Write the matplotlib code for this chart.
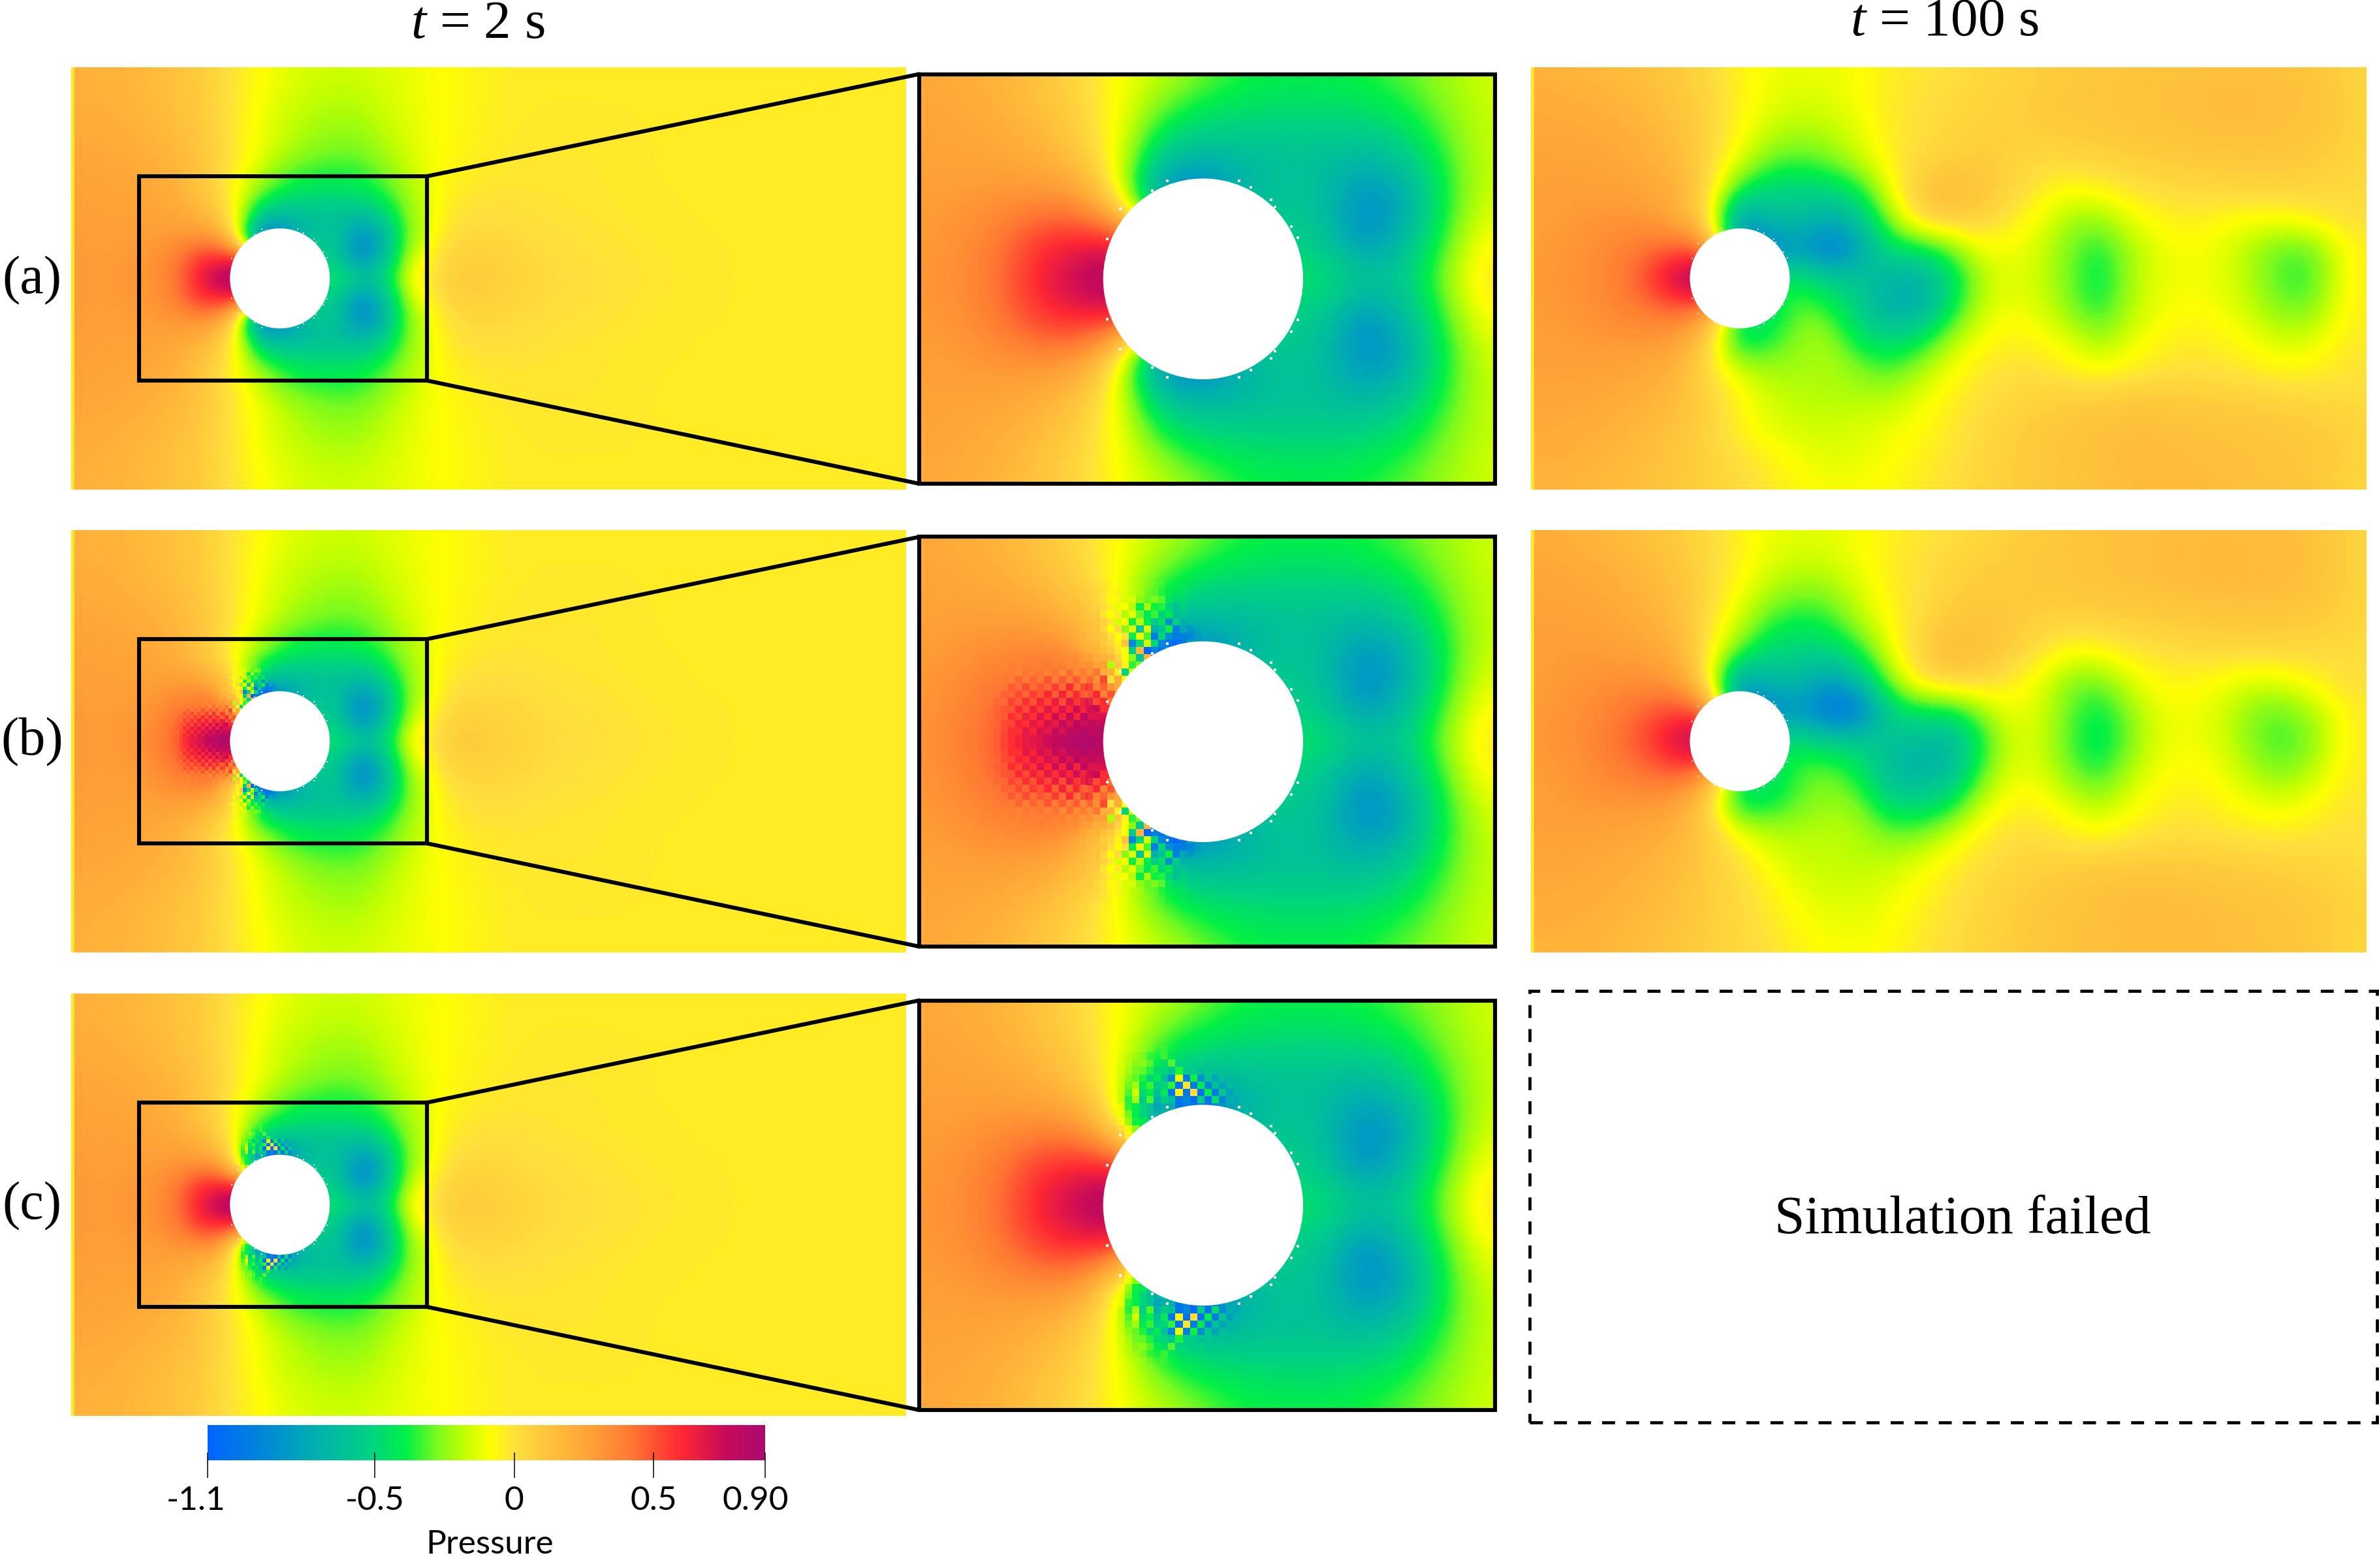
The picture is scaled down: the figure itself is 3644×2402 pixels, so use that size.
import numpy as np
import matplotlib
matplotlib.use('Agg')
import matplotlib.pyplot as plt
import matplotlib.patches as patches
from matplotlib.colors import LinearSegmentedColormap, Normalize
from matplotlib.cm import ScalarMappable

W, H = 3644, 2402
N = np.nan

plt.rcParams['font.family'] = ['Liberation Serif', 'DejaVu Serif']
plt.rcParams['mathtext.fontset'] = 'custom'
plt.rcParams['mathtext.it'] = 'Liberation Serif:italic'
plt.rcParams['mathtext.rm'] = 'Liberation Serif'

# --- colour scale ---
P_MIN, P_MAX = -1.1, 0.9
CMAP_VALUES = [-1.1, -0.85, -0.72, -0.52, -0.39, -0.28, -0.17, -0.086, 0.0, 0.10, 0.28, 0.42, 0.60, 0.76, 0.90]
CMAP_COLORS = ['#0064ff', '#0091cd', '#00afaf', '#00d282', '#00f046', '#78fa1e', '#c8ff00', '#ffff00',
               '#ffe13c', '#ffc83c', '#ffa037', '#ff7832', '#ff2832', '#c80a5a', '#aa0a6e']
TICK_VALUES = [-1.1, -0.5, 0, 0.5, 0.9]
TICK_LABELS = ['-1.1', '-0.5', '0', '0.5', '0.90']

# --- t = 2 s, whole channel: x -2.0..6.4 step 0.4, y 2.0..-2.0 step 0.4 ---
P_OUTER_T2 = [
    [.20, .19, .14, .09, -.03, -.12, -.16, -.16, -.12, -.09, -.05, -.03, -.03, -.03, -.03, -.03, -.03, -.03, -.03, -.03, -.03, -.03],
    [.22, .20, .16, .10, -.05, -.16, -.21, -.22, -.14, -.08, -.05, -.03, -.03, -.03, -.03, -.03, -.03, -.03, -.03, -.03, -.03, -.03],
    [.25, .24, .20, .13, -.03, -.18, -.28, -.30, -.17, -.08, -.04, -.02, -.02, -.02, -.03, -.03, -.03, -.03, -.03, -.03, -.03, -.03],
    [.27, .26, .25, .14, -.12, -.48, -.50, -.48, -.28, -.05, -.01, -.01, -.02, -.02, -.03, -.03, -.03, -.03, -.03, -.03, -.03, -.03],
    [.29, .28, .30, .34, -.10, -.60, -.60, -.80, -.40, .00, .04, .02, .00, -.01, -.02, -.03, -.03, -.03, -.03, -.03, -.03, -.03],
    [.30, .30, .36, .65, .95, -.40, -.45, -.55, -.20, .10, .11, .05, .02, .00, -.01, -.02, -.03, -.03, -.03, -.03, -.03, -.03],
    [.29, .28, .30, .34, -.10, -.60, -.60, -.80, -.40, .00, .04, .02, .00, -.01, -.02, -.03, -.03, -.03, -.03, -.03, -.03, -.03],
    [.27, .26, .25, .14, -.12, -.48, -.50, -.48, -.28, -.05, -.01, -.01, -.02, -.02, -.03, -.03, -.03, -.03, -.03, -.03, -.03, -.03],
    [.25, .24, .20, .13, -.03, -.18, -.28, -.30, -.17, -.08, -.04, -.02, -.02, -.02, -.03, -.03, -.03, -.03, -.03, -.03, -.03, -.03],
    [.22, .20, .16, .10, -.05, -.16, -.21, -.22, -.14, -.08, -.05, -.03, -.03, -.03, -.03, -.03, -.03, -.03, -.03, -.03, -.03, -.03],
    [.20, .19, .14, .09, -.03, -.12, -.16, -.16, -.12, -.09, -.05, -.03, -.03, -.03, -.03, -.03, -.03, -.03, -.03, -.03, -.03, -.03],
]

# --- t = 2 s, near the cylinder: x -1.4..1.4 step 0.2, y 1.0..-1.0 step 0.2 ---
P_INNER_T2 = [
    [.24, .22, .18, .10, .02, -.10, -.18, -.28, -.37, -.39, -.39, -.37, -.31, -.23, -.16],
    [.25, .24, .20, .14, .04, -.11, -.34, -.46, -.48, -.50, -.50, -.48, -.42, -.28, -.17],
    [.27, .26, .25, .20, .10, -.15, -.60, -.68, -.66, -.62, -.62, -.68, -.58, -.36, -.17],
    [.28, .30, .32, .34, .30, -.12, -1.0, -1.0, -.70, -.58, -.62, -.88, -.78, -.40, -.16],
    [.30, .33, .42, .58, .60, .60, .00, -.30, -.45, -.55, -.58, -.88, -.68, -.35, -.08],
    [.30, .35, .45, .65, .84, .95, .95, .00, -.40, -.45, -.42, -.55, -.55, -.25, .00],
    [.30, .33, .42, .58, .60, .60, .00, -.30, -.45, -.55, -.58, -.88, -.68, -.35, -.08],
    [.28, .30, .32, .34, .30, -.12, -1.0, -1.0, -.70, -.58, -.62, -.88, -.78, -.40, -.16],
    [.27, .26, .25, .20, .10, -.15, -.60, -.68, -.66, -.62, -.62, -.68, -.58, -.36, -.17],
    [.25, .24, .20, .14, .04, -.11, -.34, -.46, -.48, -.50, -.50, -.48, -.42, -.28, -.17],
    [.24, .22, .18, .10, .02, -.10, -.18, -.28, -.37, -.39, -.39, -.37, -.31, -.23, -.16],
]

# row (b) has a wider high pressure patch ahead of the cylinder
P_INNER_T2_B = [
    [.24, .22, .18, .10, .02, -.10, -.18, -.28, -.37, -.39, -.39, -.37, -.31, -.23, -.16],
    [.25, .24, .21, .15, .05, -.11, -.34, -.46, -.48, -.50, -.50, -.48, -.42, -.28, -.17],
    [.27, .28, .29, .27, .16, -.15, -.60, -.68, -.66, -.62, -.62, -.68, -.58, -.36, -.17],
    [.29, .33, .37, .40, .36, -.12, -1.0, -1.0, -.70, -.58, -.62, -.88, -.78, -.40, -.16],
    [.31, .37, .45, .58, .62, .62, .00, -.30, -.45, -.55, -.58, -.88, -.68, -.35, -.08],
    [.32, .39, .48, .64, .82, .95, .95, .00, -.40, -.45, -.42, -.55, -.55, -.25, .00],
    [.31, .37, .45, .58, .62, .62, .00, -.30, -.45, -.55, -.58, -.88, -.68, -.35, -.08],
    [.29, .33, .37, .40, .36, -.12, -1.0, -1.0, -.70, -.58, -.62, -.88, -.78, -.40, -.16],
    [.27, .28, .29, .27, .16, -.15, -.60, -.68, -.66, -.62, -.62, -.68, -.58, -.36, -.17],
    [.25, .24, .21, .15, .05, -.11, -.34, -.46, -.48, -.50, -.50, -.48, -.42, -.28, -.17],
    [.24, .22, .18, .10, .02, -.10, -.18, -.28, -.37, -.39, -.39, -.37, -.31, -.23, -.16],
]

# --- t = 100 s, whole channel: x -2.1..6.3 step 0.3, y 2.1..-2.1 step 0.3 ---
P_T100_A = [
    [.20, .18, .17, .15, .12, .08, .03, -.06, -.11, -.12, -.11, -.09, -.04, -.02, .00, .03, .05, .07, .09, .10, .11, .12, .12, .13, .13, .13, .11, .07, .04],
    [.22, .21, .20, .18, .15, .10, .04, -.05, -.11, -.14, -.13, -.09, -.03, .00, .02, .04, .06, .08, .10, .11, .12, .13, .14, .15, .15, .14, .13, .08, .04],
    [.24, .24, .23, .21, .18, .12, .05, -.07, -.17, -.20, -.18, -.12, -.03, .00, .03, .06, .07, .08, .09, .10, .11, .12, .13, .14, .14, .13, .12, .08, .04],
    [.26, .26, .25, .24, .20, .15, .04, -.12, -.28, -.32, -.27, -.16, -.05, .02, .06, .08, .06, .03, .04, .05, .07, .08, .09, .10, .10, .10, .09, .06, .03],
    [.27, .28, .28, .27, .25, .20, .02, -.36, -.50, -.52, -.48, -.38, -.10, .10, .16, .12, .05, -.03, -.08, -.05, -.01, .02, .03, .04, .05, .05, .04, .03, .02],
    [.28, .29, .31, .32, .30, .20, .00, -.85, -.62, -.62, -.72, -.60, -.24, .04, .10, .06, -.02, -.10, -.22, -.24, -.12, -.06, -.04, -.06, -.09, -.08, -.05, .00, .01],
    [.29, .30, .33, .37, .43, .50, .35, -.90, -1.0, -.80, -1.02, -.78, -.45, -.42, -.30, -.10, -.10, -.15, -.28, -.38, -.22, -.12, -.09, -.12, -.20, -.30, -.30, -.12, -.03],
    [.30, .31, .34, .40, .55, .82, 1.0, .00, -.40, -.42, -.55, -.58, -.70, -.72, -.50, -.22, -.12, -.17, -.28, -.44, -.22, -.12, -.10, -.12, -.20, -.33, -.36, -.12, -.03],
    [.29, .30, .33, .37, .42, .48, .35, -.40, -.50, -.28, -.36, -.55, -.72, -.72, -.45, -.17, -.10, -.14, -.26, -.38, -.20, -.11, -.08, -.10, -.17, -.27, -.28, -.10, -.03],
    [.28, .29, .30, .31, .31, .26, .05, -.50, -.38, -.24, -.22, -.45, -.50, -.45, -.22, -.10, -.05, -.07, -.14, -.24, -.14, -.06, -.04, -.05, -.10, -.16, -.15, -.06, -.02],
    [.27, .27, .27, .26, .24, .18, .00, -.16, -.22, -.22, -.20, -.26, -.34, -.22, -.10, -.03, .00, .00, -.05, -.10, -.05, -.02, .00, -.01, -.03, -.07, -.06, -.02, .00],
    [.25, .25, .24, .22, .19, .14, .06, -.06, -.16, -.19, -.20, -.20, -.19, -.12, -.05, .00, .03, .05, .07, .08, .09, .09, .08, .07, .06, .05, .03, .02, .01],
    [.23, .23, .21, .19, .16, .11, .05, -.06, -.12, -.15, -.16, -.14, -.11, -.08, -.03, .02, .06, .09, .11, .13, .14, .14, .13, .12, .11, .10, .09, .07, .04],
    [.21, .21, .19, .17, .14, .10, .05, .01, -.05, -.10, -.13, -.12, -.09, -.05, -.01, .03, .07, .10, .12, .14, .15, .15, .14, .14, .13, .12, .10, .07, .04],
    [.18, .18, .16, .15, .12, .09, .05, .02, -.02, -.07, -.10, -.09, -.07, -.03, .00, .04, .07, .09, .11, .13, .14, .15, .15, .14, .13, .12, .10, .06, .03],
]

P_T100_B = [
    [.22, .20, .18, .15, .12, .07, .02, -.05, -.11, -.13, -.12, -.09, -.05, -.02, .00, .03, .06, .08, .10, .12, .13, .14, .15, .15, .15, .15, .13, .08, .04],
    [.24, .23, .21, .18, .15, .10, .03, -.05, -.13, -.16, -.15, -.10, -.04, .00, .03, .06, .08, .10, .11, .13, .14, .15, .16, .17, .16, .16, .14, .08, .04],
    [.26, .25, .24, .21, .18, .12, .03, -.09, -.20, -.26, -.24, -.14, -.05, .00, .05, .09, .09, .10, .10, .11, .12, .13, .14, .15, .15, .14, .13, .08, .04],
    [.27, .27, .26, .24, .20, .14, .00, -.16, -.34, -.40, -.36, -.20, -.07, .02, .10, .12, .09, .06, .05, .06, .07, .08, .09, .10, .10, .10, .09, .06, .03],
    [.28, .29, .29, .28, .25, .20, -.03, -.30, -.50, -.52, -.50, -.38, -.12, .06, .16, .14, .08, .00, -.08, -.07, -.02, .00, .02, .03, .03, .03, .02, .02, .01],
    [.28, .30, .32, .33, .34, .26, -.05, -.85, -.62, -.65, -.80, -.62, -.26, .00, .06, .05, -.03, -.12, -.26, -.28, -.14, -.06, -.06, -.09, -.14, -.12, -.07, .00, .01],
    [.29, .31, .35, .40, .48, .55, .40, -.90, -1.0, -.82, -1.05, -1.0, -.52, -.42, -.42, -.25, -.10, -.14, -.30, -.42, -.25, -.12, -.10, -.14, -.25, -.30, -.22, -.08, -.02],
    [.30, .32, .36, .44, .55, .78, .90, .00, -.45, -.45, -.55, -.55, -.60, -.65, -.68, -.42, -.15, -.16, -.32, -.46, -.28, -.12, -.10, -.14, -.26, -.35, -.28, -.10, -.02],
    [.29, .30, .34, .39, .45, .50, .35, -.40, -.50, -.32, -.28, -.42, -.65, -.70, -.66, -.35, -.12, -.13, -.28, -.38, -.20, -.10, -.07, -.10, -.20, -.28, -.20, -.07, -.02],
    [.28, .29, .31, .31, .31, .26, .03, -.48, -.42, -.30, -.24, -.28, -.52, -.52, -.46, -.18, -.07, -.06, -.15, -.22, -.12, -.05, -.03, -.06, -.11, -.14, -.10, -.03, -.01],
    [.27, .27, .27, .26, .24, .18, .08, -.12, -.20, -.20, -.18, -.20, -.30, -.30, -.18, -.06, .00, .00, -.05, -.09, -.04, -.01, .00, -.01, -.03, -.04, -.02, .00, .00],
    [.25, .25, .24, .22, .19, .15, .08, .00, -.10, -.17, -.18, -.19, -.18, -.12, -.05, .00, .03, .05, .06, .07, .08, .08, .08, .07, .06, .05, .04, .03, .01],
    [.23, .23, .22, .20, .17, .13, .07, .02, -.05, -.12, -.15, -.15, -.12, -.07, -.02, .03, .06, .09, .11, .13, .14, .14, .13, .12, .11, .10, .08, .06, .03],
    [.21, .21, .20, .18, .15, .12, .07, .03, -.02, -.08, -.11, -.12, -.09, -.04, .00, .04, .07, .10, .12, .14, .15, .15, .15, .14, .13, .12, .10, .07, .04],
    [.19, .19, .18, .16, .13, .10, .06, .03, .00, -.05, -.09, -.09, -.07, -.02, .01, .05, .07, .10, .12, .13, .14, .15, .15, .14, .13, .12, .10, .06, .03],
]

# --- grid-scale noise read cell by cell, cell = 0.036 in x and y ---
# row (b): ahead of the cylinder, x from -1.118, y from 0.432 down to the centre line
NOISE_B_RED = [
    [.36, .36, .34, .36, .34, .34, .36, .33, .38, .35, .32, .33, .30, .36, .22, .25, .12, -.05],
    [.37, .36, .37, .36, .38, .36, .38, .36, .36, .40, .34, .38, .30, .30, .27, .16, .25, -.12],
    [.38, .38, .38, .38, .40, .36, .42, .38, .42, .36, .42, .32, .45, .30, .38, .20, .32, .10],
    [.39, .39, .40, .42, .40, .46, .40, .46, .42, .50, .40, .48, .40, .50, .30, .50, .62, -.02],
    [.40, .40, .42, .42, .48, .44, .52, .44, .50, .46, .55, .45, .60, .40, .62, .35, .45, .42],
    [.41, .41, .42, .47, .46, .52, .46, .55, .50, .60, .48, .62, .48, .60, .45, .68, .40, .50],
    [.41, .42, .46, .45, .54, .48, .58, .50, .62, .54, .65, .52, .68, .55, .72, .50, .72, .72],
    [.42, .44, .46, .50, .50, .60, .52, .64, .56, .68, .58, .70, .60, .74, .58, .76, .60, .55],
    [.42, .44, .48, .48, .58, .54, .64, .58, .70, .60, .74, .62, .78, .62, .80, .70, .72, .78],
    [.43, .45, .46, .52, .54, .62, .58, .68, .62, .72, .66, .78, .70, .82, .74, .82, .78, .85],
    [.43, .45, .48, .52, .58, .58, .68, .62, .72, .68, .76, .72, .82, .76, .85, .80, .88, .88],
    [.44, .46, .48, .54, .58, .62, .66, .68, .70, .74, .76, .80, .82, .84, .86, .88, .88, .90],
]
# row (b): shoulder of the cylinder, x from -0.66, y from 0.795
NOISE_B_TOP = [
    [.13, .11, .09, .05, .04, -.02, -.06, -.10, -.14, -.20, -.20, -.24, -.28, -.36, -.38, -.40, -.42, -.44],
    [.13, .12, .08, .07, .02, -.06, -.03, -.12, -.16, -.18, -.26, -.26, -.33, -.38, -.42, -.42, -.46, -.48],
    [.15, .11, .10, .04, .00, -.08, -.05, -.14, -.12, -.24, -.28, -.22, -.28, -.42, -.50, -.46, -.52, -.50],
    [.16, .14, .09, .06, .02, -.04, -.12, -.09, -.20, -.40, -.22, -.38, -.36, -.50, -.60, -.52, -.60, -.56],
    [.18, .15, .11, .08, -.02, -.09, -.03, -.20, -.13, -.30, -.42, -.34, -.50, -.42, -.62, -.60, -.66, -.62],
    [.19, .17, .14, .10, .06, -.02, -.14, -.10, -.38, -.20, -.40, -.55, -.46, -.85, -.55, -.72, -.70, -.72],
    [.20, .18, .14, .13, .04, -.08, .02, -.25, -.14, -.60, -.15, -.70, -.62, -.38, -.95, -.75, -.95, -.82],
    [.20, .20, .16, .12, .10, .01, -.08, .00, -.40, -.12, -.32, -.95, -.50, -.85, -.95, -1.0, -1.05, -.90],
    [.22, .20, .18, .16, .08, .04, -.05, .12, -.90, -.50, -.15, -.50, -.90, -1.0, -1.05, -1.05, N, N],
    [.30, .25, .20, .20, .14, .08, -.02, -.10, -.55, .18, -1.1, -.95, -1.0, -.70, N, N, N, N],
    [.35, .30, .28, .22, .20, .15, .05, -.10, -.25, -.60, .20, -.95, N, N, N, N, N, N],
    [.42, .33, .36, .26, .28, -.20, .10, -.05, -.35, N, N, N, N, N, N, N, N, N],
    [.40, .42, .34, .42, .22, .20, -.05, -.50, -.15, N, N, N, N, N, N, N, N, N],
    [.46, .42, .44, .34, .52, .02, .22, -.10, N, N, N, N, N, N, N, N, N, N],
    [.52, .42, .58, .38, .46, .32, .25, N, N, N, N, N, N, N, N, N, N, N],
    [.58, .50, .46, .60, .38, .50, .30, N, N, N, N, N, N, N, N, N, N, N],
    [.66, .56, .70, .52, .60, .42, N, N, N, N, N, N, N, N, N, N, N, N],
    [.72, .65, .72, .75, .58, N, N, N, N, N, N, N, N, N, N, N, N, N],
]
# row (c): shoulder of the cylinder, x from -0.464, y from 0.794
NOISE_C_TOP = [
    [-.10, -.12, -.14, -.18, -.22, -.30, -.35, -.25, -.35, -.42, -.45, -.45, -.45, -.48, -.46, -.48, -.46, -.50],
    [-.09, -.14, -.20, -.24, -.28, -.36, -.38, -.28, -.40, -.46, -.50, -.50, -.52, -.50, -.55, -.50, -.55, -.52],
    [-.09, -.14, -.20, -.26, -.24, -.30, -.42, -.48, -.28, -.52, -.50, -.56, -.52, -.58, -.54, -.58, -.55, -.58],
    [-.09, -.16, -.22, -.28, -.30, -.36, -.48, -.50, -.58, -.36, -.56, -.55, -.62, -.58, -.62, -.60, -.62, -.60],
    [-.09, -.18, -.26, -.30, -.36, -.50, -.42, -.62, -.90, -.12, -.95, -.38, -.85, -.60, -.75, -.62, -.70, -.65],
    [-.09, -.18, -.30, -.22, -.42, -.34, -.55, -.50, -.35, -1.0, -.02, -.95, -.42, -.90, -.62, -.78, -.65, -.72],
    [-.10, -.20, -.34, -.15, -.48, -.40, -.62, -.42, -1.0, -.06, -1.0, .02, -1.0, -.40, -.95, -.55, -.85, -.72],
    [-.10, -.20, -.40, -.22, -.55, -.32, -.70, -.55, -.62, -1.0, -.90, -1.05, -.55, -1.0, -.48, -.95, -.72, -.85],
    [-.09, -.10, -.38, -.40, -.50, -.60, -.75, -.70, -.72, -1.0, -.95, -1.0, -.95, -1.0, -.90, -.85, -.80, -.80],
    [-.12, -.12, -.30, -.40, -.50, -.60, -.70, N, N, N, N, N, N, N, N, N, N, N],
    [.05, -.05, -.25, -.38, -.42, N, N, N, N, N, N, N, N, N, N, N, N, N],
    [.20, .05, -.12, -.25, N, N, N, N, N, N, N, N, N, N, N, N, N, N],
    [.25, .15, -.05, N, N, N, N, N, N, N, N, N, N, N, N, N, N, N],
    [.30, .20, N, N, N, N, N, N, N, N, N, N, N, N, N, N, N, N],
]
NOISE_CELL = 0.036

# small white gaps beside the cylinder wall (upper half, lower half is the same)
FLECK_X = [-.18, .18, .24, .34, .36, .44, .475, -.255, -.415, -.48]
FLECK_Y = [.49, .49, .455, .395, .36, .262, .205, .44, .35, .20]

ROW_LABELS = ['(a)', '(b)', '(c)']
ROW_TOPS = [103, 812, 1522]
ROW_LABEL_Y = [430, 1137, 1848]

FULL_XLIM = (-2.09, 6.27)
FULL_YLIM = (-2.11, 2.11)
ZOOM_XLIM = (-1.42, 1.46)
ZOOM_YLIM = (-1.02, 1.02)

cmap = LinearSegmentedColormap.from_list(
    'pressure', [((v - P_MIN) / (P_MAX - P_MIN), c) for v, c in zip(CMAP_VALUES, CMAP_COLORS)])
norm = Normalize(vmin=P_MIN, vmax=P_MAX)


def px_axes(fig, x0, y0, x1, y1):
    ax = fig.add_axes([x0 / W, 1 - y1 / H, (x1 - x0) / W, (y1 - y0) / H])
    ax.set_axis_off()
    return ax


def show_field(ax, field, step, x0, y0):
    # y0 is the top row centre, x0 the left column centre
    arr = np.array(field)
    ny, nx = arr.shape
    extent = (x0 - step / 2, x0 + (nx - 0.5) * step, y0 - (ny - 0.5) * step, y0 + step / 2)
    return ax.imshow(arr, extent=extent, cmap=cmap, norm=norm, interpolation='bicubic',
                     aspect='auto', origin='upper', zorder=1)


def edge_alpha(shape, fade=3):
    # blocks fade into the smooth field towards the left, top and right sides
    ny, nx = shape
    cols = np.arange(nx)
    rows = np.arange(ny)
    from_side = np.minimum(cols + 1, nx - cols)
    alpha_x = np.clip(from_side / (fade + 1), 0, 1)
    alpha_y = np.clip((rows + 1) / (fade + 1), 0, 1)
    return np.outer(alpha_y, alpha_x)


def show_noise(ax, cells, x_left, y_top):
    # blocky cells over the smooth field, NaN cells stay see-through
    arr = np.array(cells)
    ny, nx = arr.shape
    alpha = edge_alpha(arr.shape)
    x_right = x_left + nx * NOISE_CELL
    ax.imshow(arr, extent=(x_left, x_right, y_top - ny * NOISE_CELL, y_top), cmap=cmap, norm=norm,
              interpolation='nearest', aspect='auto', origin='upper', zorder=2.5, alpha=alpha)
    ax.imshow(arr[::-1], extent=(x_left, x_right, -y_top, -y_top + ny * NOISE_CELL), cmap=cmap, norm=norm,
              interpolation='nearest', aspect='auto', origin='upper', zorder=2.5, alpha=alpha[::-1])


def finish_panel(ax, xlim, ylim, size):
    ax.add_patch(patches.Circle((0, 0), 0.5, facecolor='white', edgecolor='none', zorder=3))
    ax.scatter(FLECK_X + FLECK_X, FLECK_Y + [-v for v in FLECK_Y], s=size, marker='s',
               color='white', linewidths=0, zorder=3.5)
    ax.set_xlim(*xlim)
    ax.set_ylim(*ylim)


def add_row_noise(ax, row):
    if row == 1:
        show_noise(ax, NOISE_B_RED, -1.118, 0.432)
        show_noise(ax, NOISE_B_TOP, -0.66, 0.795)
    elif row == 2:
        show_noise(ax, NOISE_C_TOP, -0.464, 0.794)


fig = plt.figure(figsize=(W / 100, H / 100), dpi=100)
fig.patch.set_facecolor('white')

for i, top in enumerate(ROW_TOPS):
    inner = P_INNER_T2_B if i == 1 else P_INNER_T2

    # left: whole channel at t = 2 s with the inset box
    ax_l = px_axes(fig, 109, top, 1388, top + 647)
    show_field(ax_l, P_OUTER_T2, 0.4, -2.0, 2.0)
    im = show_field(ax_l, inner, 0.2, -1.4, 1.0)
    im.set_zorder(2)
    im.set_clip_path(patches.Rectangle((-1.41, -1.02), 2.88, 2.04, transform=ax_l.transData))
    add_row_noise(ax_l, i)
    ax_l.axvspan(FULL_XLIM[0], -2.06, color='#ffe628', lw=0, zorder=2)
    finish_panel(ax_l, FULL_XLIM, FULL_YLIM, 1.5)
    ax_l.add_patch(patches.Rectangle((-1.41, -1.02), 2.88, 2.04, fill=False, edgecolor='black',
                                     lw=4.4, zorder=5, joinstyle='miter'))

    # middle: enlarged view
    ax_z = px_axes(fig, 1408, top + 10.5, 2290, top + 638)
    show_field(ax_z, inner, 0.2, -1.4, 1.0)
    add_row_noise(ax_z, i)
    finish_panel(ax_z, ZOOM_XLIM, ZOOM_YLIM, 5)
    ax_z.add_patch(patches.Rectangle((0, 0), 1, 1, transform=ax_z.transAxes, fill=False,
                                     edgecolor='black', lw=4.4, zorder=5, joinstyle='miter', clip_on=False))

    for y_sign in (1.02, -1.02):
        con = patches.ConnectionPatch(xyA=(1.47, y_sign), coordsA=ax_l.transData,
                                      xyB=(-1.42, y_sign), coordsB=ax_z.transData,
                                      color='black', lw=4.4, zorder=6)
        fig.add_artist(con)

    fig.text(49 / W, 1 - ROW_LABEL_Y[i] / H, ROW_LABELS[i], fontsize=59, ha='center', va='center')

# right column, t = 100 s
for top, field in zip(ROW_TOPS[:2], [P_T100_A, P_T100_B]):
    ax_r = px_axes(fig, 2345, top, 3625, top + 647)
    show_field(ax_r, field, 0.3, -2.1, 2.1)
    ax_r.axvspan(FULL_XLIM[0], -2.06, color='#ffe628', lw=0, zorder=2)
    finish_panel(ax_r, FULL_XLIM, FULL_YLIM, 1.5)

# failed run box
ax_f = px_axes(fig, 2343, 1518, 3641, 2179)
ax_f.add_patch(patches.Rectangle((0, 0), 1, 1, transform=ax_f.transAxes, fill=False, edgecolor='black',
                                 lw=3.4, linestyle=(0, (4.2, 3.6)), clip_on=False))
fig.text(3006 / W, 1 - 1869 / H, 'Simulation failed', fontsize=60, ha='center', va='center')

# column titles
fig.text(732 / W, 1 - 38 / H, r'$\mathit{t}$ = 2 s', fontsize=60, ha='center', va='center')
fig.text(2979 / W, 1 - 34 / H, r'$\mathit{t}$ = 100 s', fontsize=60, ha='center', va='center')

# legend
cax = fig.add_axes([318 / W, 1 - 2237 / H, (1172 - 318) / W, (2237 - 2183) / H])
cbar = fig.colorbar(ScalarMappable(norm=norm, cmap=cmap), cax=cax, orientation='horizontal')
cbar.outline.set_visible(False)
cbar.set_ticks(TICK_VALUES)
cbar.ax.set_xticklabels([])
cbar.ax.tick_params(axis='x', length=19.5, width=1.1, color='black', bottom=True)
cbar.ax.vlines(TICK_VALUES, 0, 0.22, color='black', lw=1.1, clip_on=False)
label_shift = [-18, 0, 0, 0, -15]
for val, lab, dx in zip(TICK_VALUES, TICK_LABELS, label_shift):
    cbar.ax.annotate(lab, xy=(val, 0), xycoords=('data', 'axes fraction'),
                     xytext=(dx * 0.72, -28), textcoords='offset points',
                     ha='center', va='top', fontsize=37, family='Lato', color='black')
fig.text(750 / W, 1 - 2366 / H, 'Pressure', fontsize=37, family='Lato', ha='center', va='center')

plt.savefig('out.png', dpi=100, facecolor='white')
plt.close()
